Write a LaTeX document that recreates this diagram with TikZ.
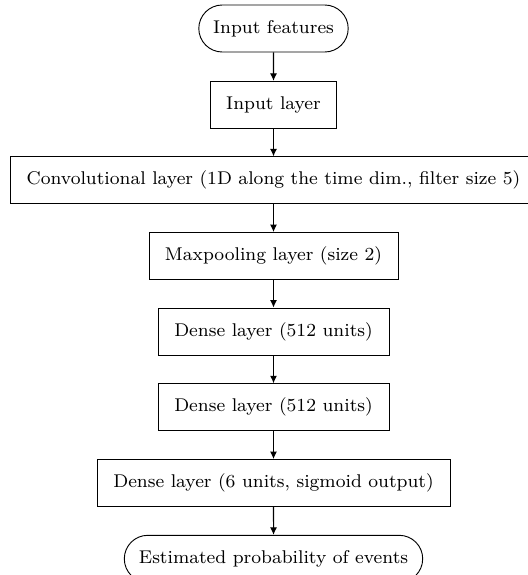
\documentclass[tikz,border=0pt]{standalone}
\usetikzlibrary{shapes.misc,arrows.meta}
\def\u{0.434pt}
\begin{document}
\begin{tikzpicture}[x=\u,y=-\u,font=\footnotesize,
  layerbox/.style={draw,rectangle,minimum height={47*\u},inner sep=1pt},
  termbox/.style={draw,rounded rectangle,minimum height={47*\u},inner sep=1pt},
  flow/.style={-{Latex[length=3.2pt,width=3pt]},line width=0.45pt}]
  \useasboundingbox (0,0) rectangle (527,575);
  \node[termbox,minimum width={154*\u}]  (in)   at (273.5,28.5)  {Input features};
  \node[layerbox,minimum width={126*\u}] (inl)  at (273.5,104.8) {Input layer};
  \node[layerbox,minimum width={527*\u}] (conv) at (273.5,180.3) {Convolutional layer (1D along the time dim., filter size 5)};
  \node[layerbox,minimum width={249*\u}] (pool) at (273.5,256)   {Maxpooling layer (size 2)};
  \node[layerbox,minimum width={231*\u}] (d1)   at (273.5,331.5) {Dense layer (512 units)};
  \node[layerbox,minimum width={231*\u}] (d2)   at (273.5,407.2) {Dense layer (512 units)};
  \node[layerbox,minimum width={353*\u}] (d3)   at (273.5,483)   {Dense layer (6 units, sigmoid output)};
  \node[termbox,minimum width={303*\u}]  (out)  at (273.5,558.8) {Estimated probability of events};
  \draw[flow] (in) -- (inl);
  \draw[flow] (inl) -- (conv);
  \draw[flow] (conv) -- (pool);
  \draw[flow] (pool) -- (d1);
  \draw[flow] (d1) -- (d2);
  \draw[flow] (d2) -- (d3);
  \draw[flow] (d3) -- (out);
\end{tikzpicture}
\end{document}
